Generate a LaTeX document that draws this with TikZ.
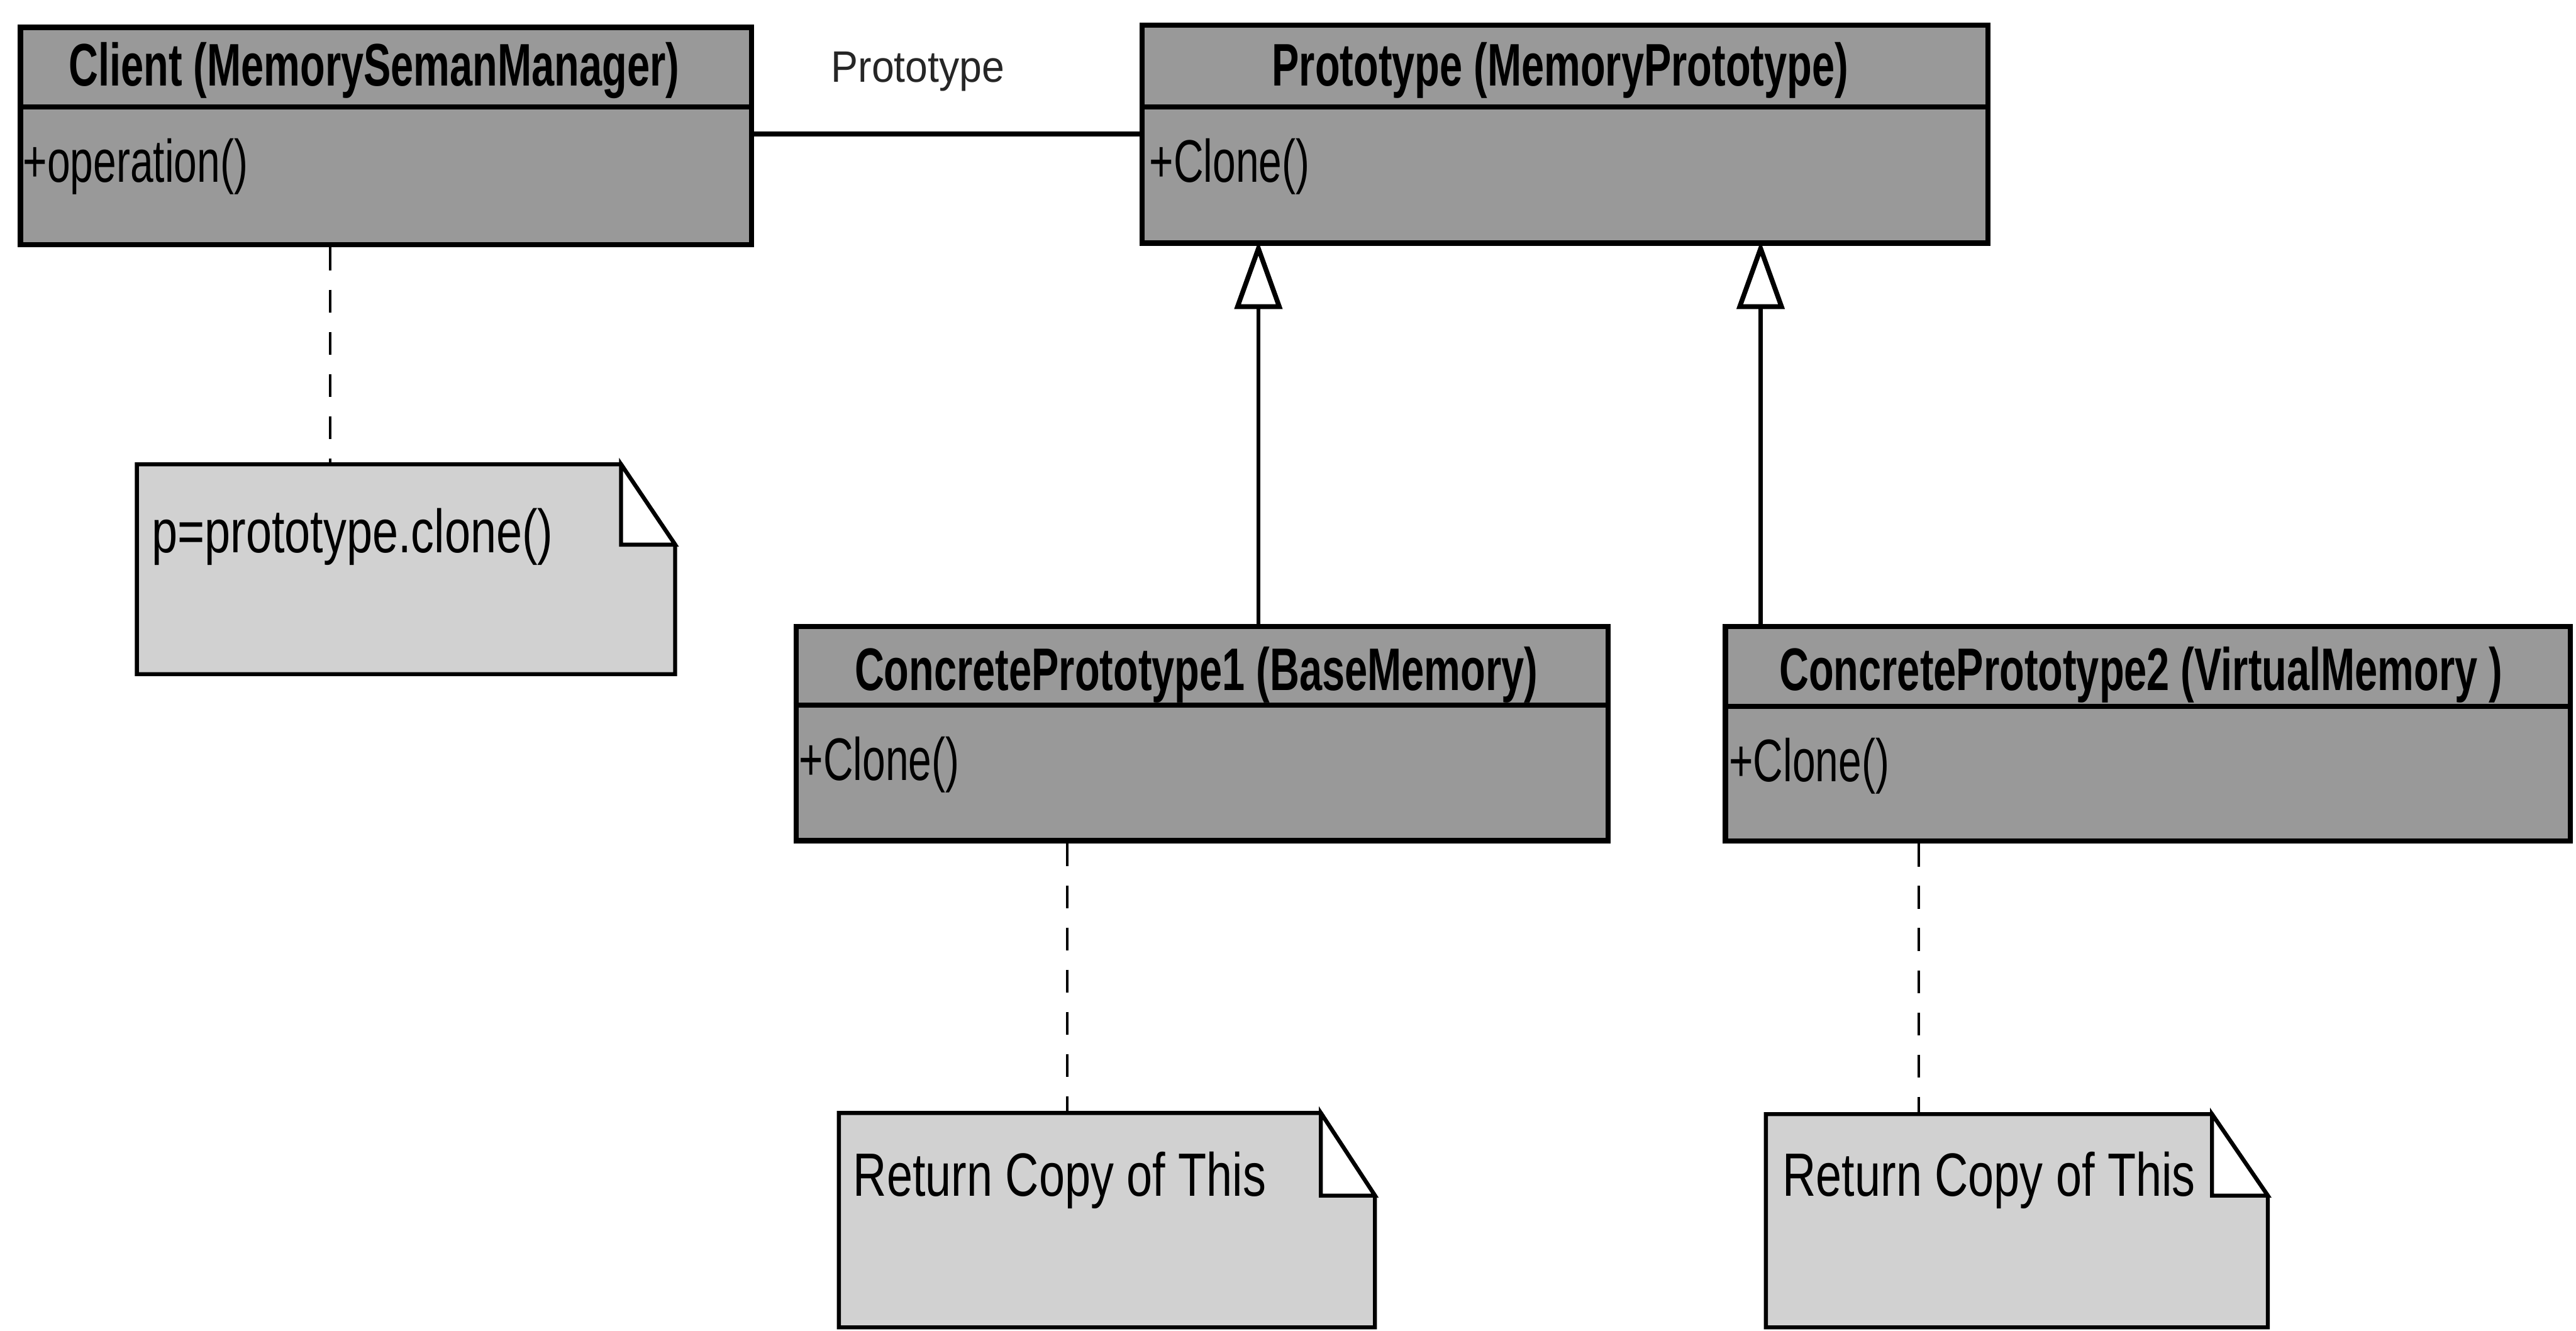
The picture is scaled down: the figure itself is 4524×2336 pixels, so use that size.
\documentclass[tikz,border=0pt]{standalone}
\usepackage{fontspec}
\usetikzlibrary{arrows.meta,calc,fit}
\newfontfamily\hdrfont[FakeStretch=0.68]{Liberation Sans}
\newfontfamily\memberfont[FakeStretch=0.69]{Liberation Sans}
\newfontfamily\notefont[FakeStretch=0.76]{Liberation Sans}
\newfontfamily\rolefont[FakeStretch=0.92]{Liberation Sans}

\begin{document}
\begin{tikzpicture}[x=0.01cm,y=-0.01cm,
  classbox/.style={draw=black, line width=2.6pt, fill=black!40, inner sep=0pt},
  notebody/.style={inner sep=0pt},
  notefill/.style={draw=black, line width=2pt, fill=black!18, line join=miter},
  foldfill/.style={draw=black, line width=2pt, fill=white, line join=miter},
  divider/.style={line width=2.6pt},
  hdr/.style={font=\hdrfont\bfseries\fontsize{30}{36}\selectfont, inner sep=0pt},
  member/.style={font=\memberfont\fontsize{30}{36}\selectfont, inner sep=0pt, anchor=west},
  notetext/.style={font=\notefont\fontsize{30.5}{36}\selectfont, inner sep=0pt, anchor=base west},
  role/.style={font=\rolefont\fontsize{22}{26}\selectfont, inner sep=0pt, text=black!85},
  assoc/.style={line width=2.4pt},
  gen/.style={line width=2pt, -{Triangle[open, length=1.19cm, width=0.83cm, line width=2.4pt]}},
  anchorline/.style={line width=1.4pt, dash pattern=on 0.4cm off 0.34cm}]

\fill[white] (0,0) rectangle (4524,2336);
\useasboundingbox (0,0) rectangle (4524,2336);

% ---- class boxes ----
\node[classbox, fit={(36,48) (1320,430)}] (client) {};
\draw[divider] ($(client.north west)+(0,144)$) -- ($(client.north east)+(0,144)$);
\node[hdr] (clientname) at (657,124) {Client (MemorySemanManager)};
\node[member] (clientop) at (40,292) {+operation()};

\node[classbox, fit={(2006,44) (3491,427)}] (proto) {};
\draw[divider] ($(proto.north west)+(0,148)$) -- ($(proto.north east)+(0,148)$);
\node[hdr] (protoname) at (2740,123) {Prototype (MemoryPrototype)};
\node[member] (protoop) at (2018,292) {+Clone()};

\node[classbox, fit={(1398,1100) (2824,1476)}] (cp1) {};
\draw[divider] ($(cp1.north west)+(0,143)$) -- ($(cp1.north east)+(0,143)$);
\node[hdr] (cpname1) at (2101,1185) {ConcretePrototype1 (BaseMemory)};
\node[member] (cpop1) at (1403,1343) {+Clone()};

\node[classbox, fit={(3030,1100) (4514,1477)}] (cp2) {};
\draw[divider] ($(cp2.north west)+(0,145)$) -- ($(cp2.north east)+(0,145)$);
\node[hdr] (cpname2) at (3760,1185) {ConcretePrototype2 (VirtualMemory )};
\node[member] (cpop2) at (3036,1345) {+Clone()};

% ---- notes ----
\node[notebody, fit={(241,816) (1185,1183)}] (note1) {};
\draw[notefill] (note1.north west) -- ($(note1.north east)+(-95,0)$) -- ($(note1.north east)+(0,141)$)
  -- (note1.south east) -- (note1.south west) -- cycle;
\draw[foldfill] ($(note1.north east)+(-95,0)$) -- ($(note1.north east)+(0,141)$) -- ($(note1.north east)+(-95,141)$) -- cycle;
\node[notetext] (notetxt1) at (266,970) {p=prototype.clone()};

\node[notebody, fit={(1474,1955) (2414,2330)}] (note2) {};
\draw[notefill] (note2.north west) -- ($(note2.north east)+(-95,0)$) -- ($(note2.north east)+(0,145)$)
  -- (note2.south east) -- (note2.south west) -- cycle;
\draw[foldfill] ($(note2.north east)+(-95,0)$) -- ($(note2.north east)+(0,145)$) -- ($(note2.north east)+(-95,145)$) -- cycle;
\node[notetext] (notetxt2) at (1498,2100) {Return Copy of This};

\node[notebody, fit={(3102,1957) (3982,2330)}] (note3) {};
\draw[notefill] (note3.north west) -- ($(note3.north east)+(-98,0)$) -- ($(note3.north east)+(0,143)$)
  -- (note3.south east) -- (note3.south west) -- cycle;
\draw[foldfill] ($(note3.north east)+(-98,0)$) -- ($(note3.north east)+(0,143)$) -- ($(note3.north east)+(-98,143)$) -- cycle;
\node[notetext] (notetxt3) at (3130,2100) {Return Copy of This};

% ---- connectors ----
\draw[assoc] (client.east |- proto.west) -- (proto.west);
\node[role] (rolelbl) at (1612,126) {Prototype};

% generalisation arrows: the open triangle's apex sits on the superclass border
\coordinate (g1) at (2210,0);
\coordinate (g2) at (3092,0);
\draw[gen] (cp1.north -| g1) -- ($(proto.south -| g1)+(0,-8)$);
\draw[gen] (cp2.north -| g2) -- ($(proto.south -| g2)+(0,-8)$);

\coordinate (d0) at (580,0);
\coordinate (d1) at (1874,0);
\coordinate (d2) at (3370,0);
\draw[anchorline] (client.south -| d0) -- (note1.north -| d0);
\draw[anchorline] (cp1.south -| d1) -- (note2.north -| d1);
\draw[anchorline] (cp2.south -| d2) -- (note3.north -| d2);
\end{tikzpicture}
\end{document}
